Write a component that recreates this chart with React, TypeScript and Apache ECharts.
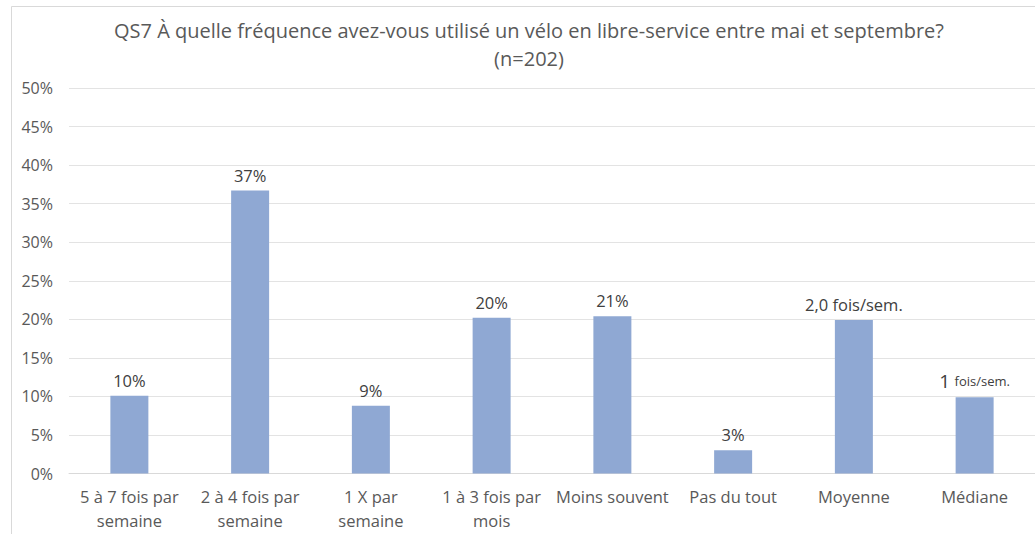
import React, { useEffect, useRef } from "react";
import * as echarts from "echarts";

const categories = [
  "5 à 7 fois par\nsemaine",
  "2 à 4 fois par\nsemaine",
  "1 X par\nsemaine",
  "1 à 3 fois par\nmois",
  "Moins souvent",
  "Pas du tout",
  "Moyenne",
  "Médiane",
];
const values = [10.1, 36.7, 8.8, 20.2, 20.4, 3.0, 19.9, 9.9];
const dataLabels = ["10%", "37%", "9%", "20%", "21%", "3%", "2,0 fois/sem.", "{big|1} {small|fois/sem.}"];
const yTicks = [0, 5, 10, 15, 20, 25, 30, 35, 40, 45, 50];

const titleLine1 = "QS7 À quelle fréquence avez-vous utilisé un vélo en libre-service entre mai et septembre?";
const titleLine2 = "(n=202)";

export default function App() {
  const ref = useRef<HTMLDivElement>(null);
  useEffect(() => {
    if (!ref.current) return;
    const chart = echarts.init(ref.current, undefined, { renderer: "svg" });
    const font = "'Open Sans', 'Noto Sans', sans-serif";
    chart.setOption({
      animation: false,
      backgroundColor: "#ffffff",
      textStyle: { fontFamily: font },
      graphic: [
        {
          type: "rect",
          shape: { x: 11.5, y: 6.5, width: 1040, height: 540 },
          style: { fill: "none", stroke: "#d9d9d9", lineWidth: 1 },
          silent: true,
          z: -10,
        },
        {
          type: "text",
          x: 529,
          y: 44,
          style: {
            text: titleLine1 + "\n" + titleLine2,
            fill: "#595959",
            font: `20px ${font}`,
            align: "center",
            verticalAlign: "middle",
            lineHeight: 28,
          },
        },
      ],
      grid: { left: 69, right: 0, top: 88, bottom: 534 - 473.5 },
      xAxis: {
        type: "category",
        data: categories,
        axisTick: { show: false },
        axisLine: { lineStyle: { color: "#d9d9d9" } },
        axisLabel: {
          color: "#595959",
          fontSize: 16.5,
          lineHeight: 24,
          margin: 11,
          interval: 0,
          fontFamily: font,
        },
      },
      yAxis: {
        type: "value",
        min: yTicks[0],
        max: yTicks[yTicks.length - 1],
        interval: 5,
        axisLine: { show: false },
        axisTick: { show: false },
        splitLine: { lineStyle: { color: "#e3e3e3" } },
        axisLabel: {
          color: "#595959",
          fontSize: 16,
          margin: 16,
          fontFamily: font,
          formatter: (v: number) => `${v}%`,
        },
      },
      series: [
        {
          type: "bar",
          data: values,
          barWidth: 38,
          itemStyle: { color: "#8fa8d3" },
          label: {
            show: true,
            position: "top",
            distance: 7,
            color: "#404040",
            fontSize: 16.5,
            fontFamily: font,
            formatter: (p: any) => dataLabels[p.dataIndex],
            rich: {
              big: { fontSize: 19, color: "#404040", fontFamily: font },
              small: { fontSize: 13, color: "#404040", fontFamily: font },
            },
          },
        },
      ],
    });
    return () => chart.dispose();
  }, []);
  return (
    <div
      ref={ref}
      style={{ position: "fixed", left: 0, top: 0, width: 1035, height: 534 }}
    />
  );
}
